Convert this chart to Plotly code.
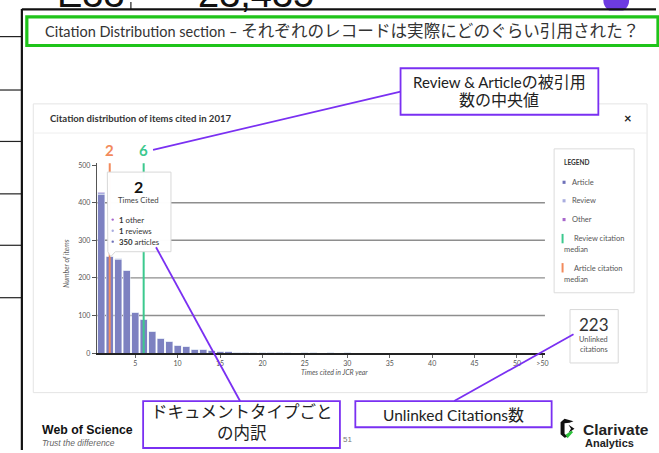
import plotly.graph_objects as go

W, H = 659, 453

# ---------------- data ----------------
times_cited = [1, 2, 3, 4, 5, 6, 7, 8, 9, 10, 11, 12, 13, 14, 15, 16, 17, 18, 19, 20,
               21, 22, 23, 24, 25, 26, 27, 28, 29, 30]
articles = [422, 256, 250, 219, 107, 89, 58, 40, 32, 21, 17, 10, 10, 6, 4, 4, 2, 2, 1, 1,
            2, 2, 1, 0, 1, 1, 0, 1, 0, 1]
reviews = [4, 1, 1, 1, 1, 1, 0, 0, 0, 0, 0, 0, 0, 0, 0, 0, 0, 0, 0, 0,
           0, 0, 0, 0, 0, 0, 0, 0, 0, 0]
others = [2, 1, 0, 0, 0, 0, 0, 0, 0, 0, 0, 0, 0, 0, 0, 0, 0, 0, 0, 0,
          0, 0, 0, 0, 0, 0, 0, 0, 0, 0]
x_tick_vals = [5, 10, 15, 20, 25, 30, 35, 40, 45, 50, 53]
x_tick_text = ["5", "10", "15", "20", "25", "30", "35", "40", "45", "50", ">50"]
y_tick_vals = [0, 100, 200, 300, 400, 500]
grid_vals = [100, 200, 300, 400]
article_median = 2
review_median = 6
unlinked_citations = 223

C_ART = "#7d81c1"
C_REV = "#a9addf"
C_OTH = "#a867cc"
C_ORANGE = "#f28a5c"
C_GREEN = "#3cc98e"
PURPLE = "#7a30f2"
UI_FONT = "Lato, Noto Sans CJK JP"
SLIDE_FONT = "Lato, Noto Sans CJK JP"


def X(px):
    return px / W


def Y(py):
    return 1 - py / H


fig = go.Figure()
fig.add_trace(go.Bar(x=times_cited, y=articles, marker_color=C_ART, name="Article"))
fig.add_trace(go.Bar(x=times_cited, y=reviews, marker_color=C_REV, name="Review"))
fig.add_trace(go.Bar(x=times_cited, y=others, marker_color=C_OTH, name="Other"))

shapes = []
ann = []


def rect(x0, y0, x1, y1, color, width, fill="rgba(0,0,0,0)", layer="above"):
    shapes.append(dict(type="rect", xref="paper", yref="paper",
                       x0=X(x0), x1=X(x1), y0=Y(y1), y1=Y(y0),
                       line=dict(color=color, width=width), fillcolor=fill, layer=layer))


def seg(x0, y0, x1, y1, color, width, layer="above"):
    shapes.append(dict(type="line", xref="paper", yref="paper",
                       x0=X(x0), x1=X(x1), y0=Y(y0), y1=Y(y1),
                       line=dict(color=color, width=width), layer=layer))


def path(pts, color, width=0, fill="rgba(0,0,0,0)", closed=True):
    d = "M " + " L ".join(f"{X(a):.5f},{Y(b):.5f}" for a, b in pts)
    if closed:
        d += " Z"
    shapes.append(dict(type="path", xref="paper", yref="paper", path=d,
                       line=dict(color=color, width=width), fillcolor=fill, layer="above"))


def txt(x, y, text, size, color="#333", font=UI_FONT, xanchor="left", yanchor="middle", angle=0):
    ann.append(dict(x=X(x), y=Y(y), xref="paper", yref="paper", text=text, showarrow=False,
                    xanchor=xanchor, yanchor=yanchor, textangle=angle,
                    font=dict(size=size, color=color, family=font)))


# ---- slide background decorations ----
for yy in [35, 89, 141, 194, 246, 299]:
    seg(0, yy, 22, yy, "#222", 1.2, layer="below")
seg(131.7, 0, 131.7, 7.5, "#222", 1.2, layer="below")
shapes.append(dict(type="circle", xref="paper", yref="paper",
                   x0=X(607), x1=X(633), y0=Y(11), y1=Y(-15),
                   line=dict(color=PURPLE, width=0), fillcolor="#6d3be0", layer="below"))
# partially visible table cell values (cut off by the slide's top edge)
txt(92, 15, "E33", 38, "#111", "Liberation Sans", "center", "bottom")
txt(258, 15, "23,435", 38, "#111", "Liberation Sans", "center", "bottom")
rect(23, 8.6, 660, 14, "white", 0, fill="white", layer="below")
seg(22, 7.5, 660, 7.5, "#111", 2.2, layer="below")
seg(22, 7, 22, 453, "#111", 2.2, layer="below")

# green banner
rect(27, 15, 662, 44, "#1fc41a", 3.2, layer="below")
txt(43, 29.5, "<span style='font-size:14.5px'>Citation Distribution section – </span>"
              "それぞれのレコードは実際にどのぐらい引用された？", 16.6, "#333", SLIDE_FONT)

# chart card
rect(33.5, 103, 651, 395, "#e4e4e4", 1, fill="white", layer="below")
seg(33.5, 132.5, 651, 132.5, "#eeeeee", 1, layer="below")
txt(48, 117.5, "<b>Citation distribution of items cited in 2017</b>", 9.6, "#333")
txt(632, 117, "<b>×</b>", 13, "#222", UI_FONT, "center")

# gridlines
for gv in grid_vals:
    shapes.append(dict(type="line", xref="x", yref="y", x0=0.5, x1=53.3, y0=gv, y1=gv,
                       line=dict(color="#8e8e8e", width=1.4), layer="below"))

# median lines
for m, c in [(article_median, C_ORANGE), (review_median, C_GREEN)]:
    shapes.append(dict(type="line", xref="x", yref="y", x0=m, x1=m, y0=0, y1=505,
                       line=dict(color=c, width=2), layer="above"))
    ann.append(dict(x=m, y=Y(150), xref="x", yref="paper", text=f"<b>{m}</b>", showarrow=False,
                    xanchor="center", yanchor="middle",
                    font=dict(size=15, color=c, family=UI_FONT)))

# tooltip
path([(108, 172), (172, 172), (172, 252.5), (116, 252.5), (111.5, 257.5), (108.5, 252.5)],
     "#d8d8d8", 1, fill="rgba(255,255,255,0.98)")
txt(139.7, 186.5, "<b>2</b>", 16, "#111", UI_FONT, "center")
txt(139.7, 200.7, "Times Cited", 7.8, "#444", UI_FONT, "center")
for yy, col, label in [(220, C_OTH, "<b>1</b> other"), (231.3, C_REV, "<b>1</b> reviews"),
                       (242.3, "#6e71b9", "<b>350</b> articles")]:
    shapes.append(dict(type="circle", xref="paper", yref="paper", x0=X(112.2), x1=X(114.6),
                       y0=Y(yy + 1.2), y1=Y(yy - 1.2), line=dict(width=0), fillcolor=col))
    txt(117.5, yy, label, 7.8, "#333")

# legend box
rect(557.5, 148.5, 638, 294, "#dcdcdc", 1, fill="white")
txt(565.5, 162.5, "<b>LEGEND</b>", 6.5, "#333")
for yy, col, label in [(182.3, "#6e71b9", "Article"), (201, C_REV, "Review"), (220, C_OTH, "Other")]:
    rect(566, yy - 1.6, 569, yy + 1.6, col, 0, fill=col)
    txt(573, yy, label, 7.5, "#555")
rect(565, 234.5, 567, 244, C_GREEN, 0, fill=C_GREEN)
txt(575.5, 239.3, "Review citation", 7.5, "#555")
txt(565.5, 250.3, "median", 7.5, "#555")
rect(565, 264, 567, 273.5, C_ORANGE, 0, fill=C_ORANGE)
txt(575.5, 269, "Article citation", 7.5, "#555")
txt(565.5, 280.3, "median", 7.5, "#555")

# unlinked citations box
rect(573.5, 311, 622, 365, "#d8d8d8", 1, fill="white")
txt(597.5, 326, str(unlinked_citations), 17, "#333", UI_FONT, "center")
txt(597.5, 340.8, "Unlinked", 7.4, "#555", UI_FONT, "center")
txt(597.5, 351.5, "citations", 7.4, "#555", UI_FONT, "center")

# axis titles
txt(66, 265, "<i>Number of items</i>", 7, "#555", UI_FONT, "center", "middle", -90)
txt(336.5, 374, "<i>Times cited in JCR year</i>", 7, "#555", UI_FONT, "center")

# callout boxes
rect(403, 67, 602, 114, PURPLE, 1.8, fill="white")
txt(502.5, 80, "<span style='font-size:15px'>Review &amp; Article</span>の被引用", 16, "#222", SLIDE_FONT, "center")
txt(502.5, 99, "数の中央値", 16, "#222", SLIDE_FONT, "center")
seg(403, 90.7, 154, 149.5, PURPLE, 1.8)

rect(144, 403.5, 342, 451, PURPLE, 1.8, fill="white")
txt(243, 414.5, "ドキュメントタイプごと", 16.5, "#222", SLIDE_FONT, "center")
txt(243, 436, "の内訳", 16.5, "#222", SLIDE_FONT, "center")
seg(157, 248, 241.5, 403.5, PURPLE, 1.8)

rect(357.5, 403.5, 555, 430, PURPLE, 1.8, fill="white")
txt(456, 417, "<span style='font-size:15.5px'>Unlinked Citations</span>数", 16, "#222", SLIDE_FONT, "center")
seg(457, 403.5, 577, 336, PURPLE, 1.8)

# footer
txt(40.5, 432.5, "<b>Web of Science</b>", 12.3, "#111", "Liberation Sans")
txt(40.5, 445.5, "<i>Trust the difference</i>", 8.5, "#666", "Liberation Sans")
txt(343, 442.5, "51", 8, "#777", "Liberation Sans")
path([(577, 424), (568, 421.5), (564, 425), (564, 437), (568, 440.5), (571, 439.5),
      (568, 436.5), (568, 426), (573, 425.5)], "#111", 0, fill="#111")
path([(572, 427.5), (578, 431.5), (572, 435.5), (574.5, 431.5)], "#111", 0, fill="#111")
path([(569, 437.5), (575, 433.5), (576.5, 435), (571, 441)], "#2cc23a", 0, fill="#2cc23a")
txt(585, 432.5, "<b>Clarivate</b>", 15.5, "#222", "Liberation Sans")
txt(586.5, 446, "<b>Analytics</b>", 11, "#222", "Liberation Sans")

fig.update_layout(
    width=W, height=H,
    margin=dict(l=0, r=0, t=0, b=0),
    paper_bgcolor="white", plot_bgcolor="rgba(0,0,0,0)",
    barmode="stack", bargap=0.17, showlegend=False, hovermode=False,
    shapes=shapes, annotations=ann,
    xaxis=dict(domain=[97.6 / W, 548.3 / W], range=[0.5, 53.3], tickvals=x_tick_vals,
               ticktext=x_tick_text, showgrid=False, zeroline=False, showline=True,
               linecolor="#222", linewidth=1.6, ticks="outside", ticklen=3, tickcolor="#666",
               tickfont=dict(size=7, color="#555", family=UI_FONT)),
    yaxis=dict(domain=[Y(355), Y(162.3)], range=[0, 507], tickvals=y_tick_vals,
               showgrid=False, zeroline=False, showline=True, linecolor="#555", linewidth=1.4,
               ticks="outside", ticklen=4, tickcolor="#555",
               tickfont=dict(size=7, color="#555", family=UI_FONT)),
)

fig.write_html("out.html", config={"displayModeBar": False},
               post_script="document.body.style.margin='0';document.body.style.overflow='hidden';")
